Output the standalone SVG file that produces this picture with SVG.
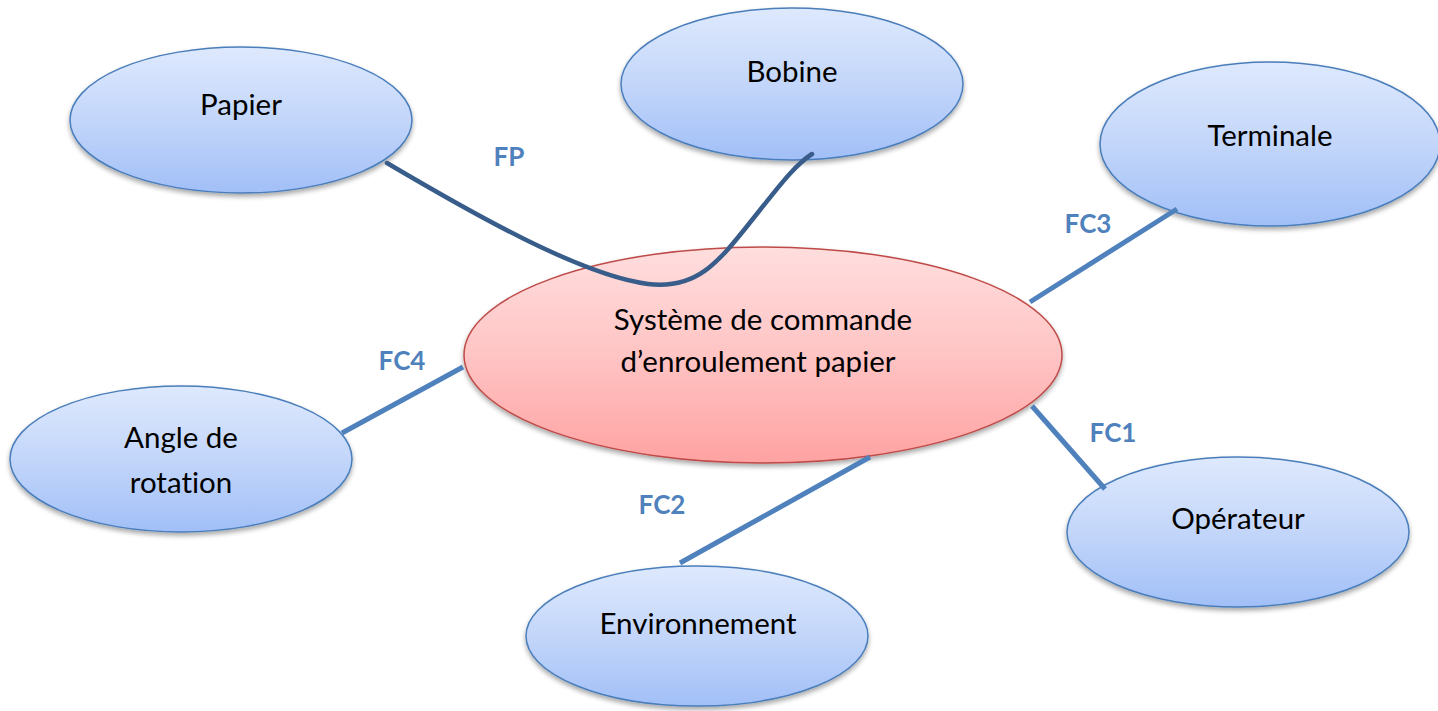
<svg xmlns="http://www.w3.org/2000/svg" width="1438" height="711" viewBox="0 0 1438 711">
  <defs>
    <linearGradient id="gBlue" x1="0" y1="0" x2="0" y2="1">
      <stop offset="0" stop-color="#dee9fd"/>
      <stop offset="0.5" stop-color="#c3d6fa"/>
      <stop offset="1" stop-color="#a1bff7"/>
    </linearGradient>
    <linearGradient id="gRed" x1="0" y1="0" x2="0" y2="1">
      <stop offset="0" stop-color="#ffdede"/>
      <stop offset="0.5" stop-color="#ffc4c4"/>
      <stop offset="1" stop-color="#ffa2a2"/>
    </linearGradient>
    <filter id="shadow" x="-10%" y="-10%" width="120%" height="130%">
      <feGaussianBlur in="SourceAlpha" stdDeviation="2.5"/>
      <feOffset dx="0" dy="3" result="b"/>
      <feComponentTransfer><feFuncA type="linear" slope="0.35"/></feComponentTransfer>
      <feMerge><feMergeNode/><feMergeNode in="SourceGraphic"/></feMerge>
    </filter>
  </defs>
  <style>
    .blue { fill: url(#gBlue); stroke: #4a7ebb; stroke-width: 1.5; filter: url(#shadow); }
    .red { fill: url(#gRed); stroke: #be4b48; stroke-width: 1.5; filter: url(#shadow); }
    .lbl { font-family: Lato, "Open Sans", "Liberation Sans", sans-serif; font-size: 29.5px; fill: #000; text-anchor: middle; font-variant-ligatures: none; }
    .fn { font-family: Lato, "Open Sans", "Liberation Sans", sans-serif; font-size: 26px; font-weight: bold; fill: #4f81bd; text-anchor: middle; }
    .link { stroke: #4f81bd; stroke-width: 5; fill: none; }
    .fp { stroke: #385d8a; stroke-width: 4.5; fill: none; stroke-linecap: round; }
  </style>

  <rect width="1438" height="711" fill="#ffffff"/>

  <g id="papier">
    <ellipse class="blue" cx="241" cy="120" rx="171" ry="73"/>
    <text class="lbl" x="241" y="115">Papier</text>
  </g>
  <g id="bobine">
    <ellipse class="blue" cx="792" cy="84" rx="171" ry="76"/>
    <text class="lbl" x="792" y="82">Bobine</text>
  </g>
  <g id="terminale">
    <ellipse class="blue" cx="1270" cy="144" rx="170" ry="82"/>
    <text class="lbl" x="1270" y="146">Terminale</text>
  </g>
  <g id="angle">
    <ellipse class="blue" cx="181" cy="459" rx="171" ry="73"/>
    <text class="lbl" x="181" y="448">Angle de</text>
    <text class="lbl" x="181" y="493">rotation</text>
  </g>
  <g id="operateur">
    <ellipse class="blue" cx="1238" cy="532" rx="171" ry="75"/>
    <text class="lbl" x="1238" y="529">Opérateur</text>
  </g>
  <g id="environnement">
    <ellipse class="blue" cx="697" cy="636" rx="171" ry="70"/>
    <text class="lbl" x="698" y="634">Environnement</text>
  </g>
  <g id="systeme">
    <ellipse class="red" cx="763" cy="355" rx="299" ry="108"/>
    <text class="lbl" x="763" y="330">Système de commande</text>
    <text class="lbl" x="758" y="372">d’enroulement papier</text>
  </g>

  <g id="connectors">
    <path class="fp" d="M387,163 C470,212 580,275 648,284 C700,290 720,260 760,210 C780,185 795,165 812,154"/>
    <line class="link" x1="1030" y1="302" x2="1177" y2="209"/>
    <line class="link" x1="1032" y1="406" x2="1105" y2="489"/>
    <line class="link" x1="680" y1="563" x2="870" y2="457"/>
    <line class="link" x1="342" y1="433" x2="463" y2="367"/>
  </g>

  <g id="labels">
    <text class="fn" x="509" y="166">FP</text>
    <text class="fn" x="1088" y="233">FC3</text>
    <text class="fn" x="402" y="370">FC4</text>
    <text class="fn" x="1113" y="442">FC1</text>
    <text class="fn" x="662" y="514">FC2</text>
  </g>
</svg>
